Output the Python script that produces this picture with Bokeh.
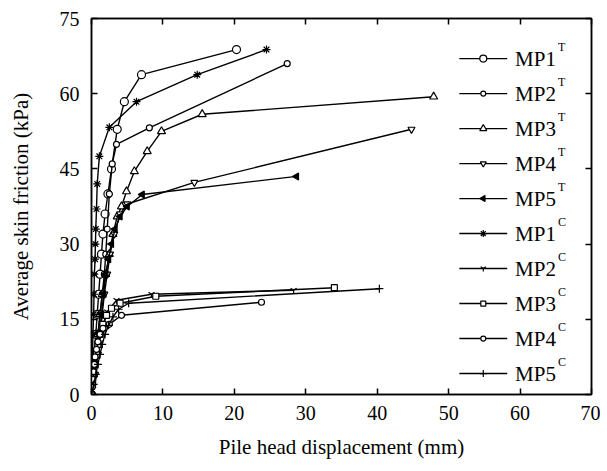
from bokeh.plotting import figure
from bokeh.models import LinearAxis, FixedTicker, Range1d
from bokeh.embed import file_html
from bokeh.resources import INLINE
from bokeh.core.properties import value
import math

# ---- data (pile head displacement in mm, average skin friction in kPa) ----
mp1t_x = [0, 0.2, 0.4, 0.6, 0.8, 1.0, 1.2, 1.4, 1.6, 1.9, 2.3, 2.8, 3.6, 4.6, 7.0, 20.3]
mp1t_y = [0, 4, 8, 12, 16, 20, 24, 28, 32, 36, 40, 45, 52.9, 58.4, 63.8, 68.8]

mp2t_x = [0, 0.3, 0.6, 0.9, 1.2, 1.5, 1.8, 2.0, 2.2, 2.5, 2.9, 3.5, 8.1, 27.4]
mp2t_y = [0, 4, 8, 12, 16, 20, 24, 28, 33, 40, 46, 49.9, 53.2, 66.0]

mp3t_x = [0, 0.3, 0.6, 0.9, 1.2, 1.5, 2.0, 2.5, 3.0, 3.6, 4.2, 4.9, 6.0, 7.8, 9.8, 15.5, 47.9]
mp3t_y = [0, 4, 8, 12, 16, 20, 24, 28, 32, 35.5, 37.5, 40.5, 44.5, 48.5, 52.5, 55.9, 59.4]

mp4t_x = [0, 0.5, 0.9, 1.2, 1.5, 1.8, 2.2, 2.6, 3.2, 4.0, 5.0, 14.4, 44.8]
mp4t_y = [0, 4, 8, 12, 16, 20, 24, 28, 32, 36.0, 38.0, 42.3, 52.9]

mp5t_x = [0, 0.4, 0.8, 1.1, 1.4, 1.7, 2.0, 2.4, 2.8, 3.3, 4.0, 5.0, 7.1, 28.7]
mp5t_y = [0, 4, 8, 12, 16, 20, 24, 27, 30, 33, 35.5, 37.5, 39.9, 43.5]

mp1c_x = [0, 0.1, 0.15, 0.2, 0.3, 0.35, 0.4, 0.5, 0.55, 0.6, 0.7, 0.8, 1.1, 2.5, 6.3, 14.8, 24.5]
mp1c_y = [0, 4, 8, 12, 16, 20, 24, 27, 30, 33, 37, 42, 47.5, 53.3, 58.4, 63.8, 68.8]

mp2c_x = [0, 0.2, 0.4, 0.6, 0.8, 1.0, 1.3, 1.7, 2.2, 3.5, 8.4, 28.3]
mp2c_y = [0, 2, 4, 6, 8, 10, 12, 14, 16.5, 18.8, 20.0, 20.8]

mp3c_x = [0, 0.15, 0.3, 0.5, 0.7, 0.9, 1.2, 1.6, 2.1, 2.8, 4.0, 9.0, 34.0]
mp3c_y = [0, 2, 4, 6, 8, 10, 12, 14, 15.8, 17.2, 18.2, 19.6, 21.3]

mp4c_x = [0, 0.1, 0.2, 0.3, 0.4, 0.5, 0.7, 0.9, 1.2, 1.6, 2.5, 4.2, 23.8]
mp4c_y = [0, 1.5, 3, 4.5, 6, 7.5, 9, 10.5, 12, 13.2, 14.0, 15.8, 18.4]

mp5c_x = [0, 0.3, 0.6, 0.9, 1.2, 1.5, 1.9, 2.4, 3.0, 3.8, 5.2, 40.3]
mp5c_y = [0, 2, 4, 6, 8, 10, 12, 13.8, 15.5, 17.0, 18.2, 21.1]

series_names = ["MP1", "MP2", "MP3", "MP4", "MP5", "MP1", "MP2", "MP3", "MP4", "MP5"]
series_sup = ["T", "T", "T", "T", "T", "C", "C", "C", "C", "C"]
series_x = [mp1t_x, mp2t_x, mp3t_x, mp4t_x, mp5t_x, mp1c_x, mp2c_x, mp3c_x, mp4c_x, mp5c_x]
series_y = [mp1t_y, mp2t_y, mp3t_y, mp4t_y, mp5t_y, mp1c_y, mp2c_y, mp3c_y, mp4c_y, mp5c_y]

x_ticks = [0, 10, 20, 30, 40, 50, 60, 70]
y_ticks = [0, 15, 30, 45, 60, 75]

# marker styles (marker, size, fill, angle)
styles = [
    ("circle", 8, "white", 0),
    ("circle", 6, "white", 0),
    ("triangle", 8, "white", 0),
    ("inverted_triangle", 7, "white", 0),
    ("triangle", 7, "black", math.pi / 2),
    ("asterisk", 8, None, 0),
    ("y", 7, None, 0),
    ("square", 6, "white", 0),
    ("circle", 6, "white", 0),
    ("cross", 8, None, 0),
]

FONT = "Liberation Serif"

p = figure(width=600, height=466, x_range=Range1d(0, 70), y_range=Range1d(0, 75),
           output_backend="svg", toolbar_location=None,
           min_border_left=91, min_border_right=9, min_border_top=18, min_border_bottom=72)
p.xgrid.visible = False
p.ygrid.visible = False
p.outline_line_color = "black"
p.outline_line_width = 1.5
p.background_fill_color = "white"
p.border_fill_color = "white"


def style_axis(ax, ticks, show_labels):
    ax.ticker = FixedTicker(ticks=ticks)
    ax.major_tick_in = 6
    ax.major_tick_out = 0
    ax.minor_tick_line_color = None
    ax.axis_line_width = 1.5
    ax.axis_line_color = "black"
    ax.major_tick_line_width = 1.5
    ax.major_tick_line_color = "black"
    ax.major_label_text_font = FONT
    ax.major_label_text_color = "black"
    ax.axis_label_text_font = FONT
    ax.axis_label_text_font_style = "normal"
    ax.axis_label_text_color = "black"
    if show_labels:
        ax.major_label_text_font_size = "20px"
        ax.axis_label_text_font_size = "21px"
    else:
        ax.major_label_overrides = {t: "" for t in ticks}
        ax.major_label_text_font_size = "1px"
        ax.major_label_standoff = 0


style_axis(p.xaxis[0], x_ticks, True)
style_axis(p.yaxis[0], y_ticks, True)
p.xaxis[0].axis_label = "Pile head displacement (mm)"
p.yaxis[0].axis_label = "Average skin friction (kPa)"
p.xaxis[0].major_label_standoff = 11
p.yaxis[0].major_label_standoff = 12
p.xaxis[0].axis_label_standoff = 12
p.yaxis[0].axis_label_standoff = 24

top = LinearAxis()
style_axis(top, x_ticks, False)
p.add_layout(top, "above")
right = LinearAxis()
style_axis(right, y_ticks, False)
p.add_layout(right, "right")

# curves
for xs, ys, (mk, sz, fc, ang) in zip(series_x, series_y, styles):
    p.line(xs, ys, line_color="black", line_width=1.4)
    p.scatter(xs, ys, marker=mk, size=sz, fill_color=fc, line_color="black",
              line_width=1.2, angle=ang)

# legend (drawn manually to allow superscripts)
LEG_X0, LEG_X1, LEG_TX, LEG_SX = 51.5, 58.2, 59.3, 65.3
LEG_Y0, LEG_DY, SUP_DY = 67.0, 6.98, 2.4
for i, (nm, sup, (mk, sz, fc, ang)) in enumerate(zip(series_names, series_sup, styles)):
    yy = LEG_Y0 - i * LEG_DY
    p.segment(x0=[LEG_X0], y0=[yy], x1=[LEG_X1], y1=[yy], line_color="black", line_width=1.4)
    p.scatter([(LEG_X0 + LEG_X1) / 2], [yy], marker=mk, size=sz - 1, fill_color=fc,
              line_color="black", line_width=1.2, angle=ang)
    p.text([LEG_TX], [yy], text=[nm], text_font=value(FONT), text_font_size=value("21px"),
           text_baseline="middle", text_align="left", text_color="black")
    p.text([LEG_SX], [yy + SUP_DY], text=[sup], text_font=value(FONT),
           text_font_size=value("12px"), text_baseline="middle", text_align="left",
           text_color="black")

open("out.html", "w").write(file_html(p, INLINE))
